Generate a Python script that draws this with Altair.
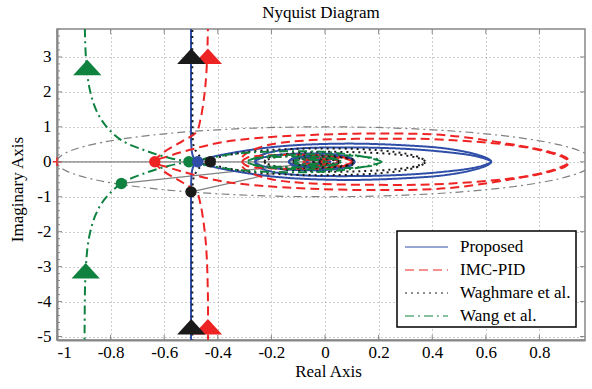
import altair as alt
import pandas as pd

SERIES = ["Proposed", "IMC-PID", "Waghmare et al.", "Wang et al."]
COLORS = ["#2f4ea8", "#ee2424", "#1a1a1a", "#0f8240"]
DASHES = [[1, 0], [9, 5], [2, 4], [9, 4, 2, 4]]

# positive-frequency branches (the negative-frequency branch is the mirror image)
BLUE_X = [-0.5, -0.5, -0.5, -0.499, -0.495, -0.487, -0.475,
          -0.44, -0.35, -0.22, -0.1, 0.1, 0.3, 0.45, 0.56, 0.61, 0.62,
          0.6, 0.55, 0.45, 0.3, 0.1, -0.1, -0.2, -0.25, -0.26,
          -0.24, -0.17, -0.05, 0.05, 0.1, 0.11,
          0.09, 0.03, -0.06, -0.12, -0.135,
          -0.11, -0.04, 0.03, 0.05, 0.03, -0.03, -0.07, -0.06, -0.01, 0.02, 0.0]
BLUE_Y = [-6.0, -3.0, -1.2, -0.5, -0.22, -0.08, 0.0,
          0.1, 0.25, 0.4, 0.48, 0.52, 0.47, 0.38, 0.22, 0.08, 0.0,
          -0.08, -0.18, -0.28, -0.37, -0.41, -0.38, -0.28, -0.14, 0.0,
          0.1, 0.2, 0.24, 0.2, 0.09, 0.0,
          -0.1, -0.17, -0.17, -0.1, 0.0,
          0.1, 0.12, 0.08, 0.0, -0.07, -0.09, -0.03, 0.04, 0.05, 0.0, -0.02]

RED_X = [-0.437, -0.437, -0.443, -0.452, -0.465, -0.48, -0.53, -0.6, -0.635,
         -0.58, -0.5, -0.39, -0.25, -0.05, 0.2, 0.45, 0.68, 0.83, 0.9, 0.91,
         0.89, 0.76, 0.45, 0.2, -0.05, -0.2, -0.28, -0.31, -0.31,
         -0.29, -0.22, -0.1, 0.02, 0.08, 0.1, 0.08, 0.02, -0.05, -0.08,
         -0.05, 0.0, 0.05, 0.05, 0.01, -0.02, 0.0]
RED_Y = [-6.0, -3.8, -2.5, -1.8, -1.2, -0.85, -0.6, -0.28, 0.0,
         0.17, 0.35, 0.55, 0.68, 0.77, 0.81, 0.76, 0.52, 0.3, 0.12, 0.0,
         -0.12, -0.4, -0.63, -0.66, -0.62, -0.5, -0.3, -0.12, 0.0,
         0.12, 0.18, 0.2, 0.17, 0.1, 0.0, -0.08, -0.12, -0.1, 0.0,
         0.06, 0.07, 0.03, -0.03, -0.05, 0.0, 0.01]

BLACK_X = [-0.494, -0.494, -0.49, -0.47, -0.45, -0.43,
           -0.4, -0.3, -0.15, 0.05, 0.2, 0.31, 0.36, 0.375,
           0.35, 0.28, 0.13, -0.03, -0.15, -0.21, -0.225,
           -0.2, -0.12, -0.02, 0.07, 0.11, 0.1, 0.04, -0.05, -0.11, -0.12,
           -0.08, 0.0, 0.05, 0.03, -0.03, -0.05, 0.0]
BLACK_Y = [-6.0, -1.0, -0.45, -0.18, -0.06, 0.0,
           0.12, 0.27, 0.36, 0.38, 0.33, 0.22, 0.1, 0.0,
           -0.1, -0.2, -0.27, -0.28, -0.22, -0.12, 0.0,
           0.1, 0.17, 0.18, 0.13, 0.04, -0.06, -0.13, -0.13, -0.06, 0.0,
           0.08, 0.09, 0.03, -0.05, -0.06, 0.0, 0.02]

GREEN_X = [-0.897, -0.897, -0.893, -0.88, -0.855, -0.82, -0.76, -0.67, -0.58, -0.508,
           -0.44, -0.32, -0.15, 0.0, 0.1, 0.17, 0.21,
           0.19, 0.12, 0.0, -0.14, -0.25, -0.29,
           -0.27, -0.18, -0.06, 0.03, 0.06, 0.03, -0.05, -0.11, -0.11, -0.06, -0.01, 0.01, 0.0]
GREEN_Y = [-6.0, -4.8, -3.1, -2.15, -1.5, -1.05, -0.62, -0.32, -0.11, 0.0,
           0.1, 0.24, 0.3, 0.28, 0.2, 0.1, 0.0,
           -0.09, -0.16, -0.21, -0.2, -0.12, 0.0,
           0.08, 0.14, 0.15, 0.1, 0.0, -0.08, -0.1, -0.05, 0.02, 0.06, 0.04, -0.01, 0.0]

CURVES = [(BLUE_X, BLUE_Y), (RED_X, RED_Y), (BLACK_X, BLACK_Y), (GREEN_X, GREEN_Y)]

# unit circle (reference)
UC_X = [1, 0.966, 0.866, 0.707, 0.5, 0.259, 0, -0.259, -0.5, -0.707, -0.866, -0.966, -1,
        -0.966, -0.866, -0.707, -0.5, -0.259, 0, 0.259, 0.5, 0.707, 0.866, 0.966, 1]
UC_Y = [0, 0.259, 0.5, 0.707, 0.866, 0.966, 1, 0.966, 0.866, 0.707, 0.5, 0.259, 0,
        -0.259, -0.5, -0.707, -0.866, -0.966, -1, -0.966, -0.866, -0.707, -0.5, -0.259, 0]

# gray reference segments: negative real axis and phase-margin rays
SEG_ID = ["a", "a", "b", "b", "c", "c"]
SEG_X = [-1.0, 0.0, 0.0, -0.76, 0.0, -0.5]
SEG_Y = [0.0, 0.0, 0.0, -0.62, 0.0, -0.86]

# crossing markers
DOT_X = [-0.76, -0.635, -0.508, -0.475, -0.428, -0.5]
DOT_Y = [-0.62, 0.0, 0.0, 0.0, 0.0, -0.86]
DOT_C = ["#0f8240", "#ee2424", "#0f8240", "#2f4ea8", "#1a1a1a", "#1a1a1a"]

# direction arrows
TRI_X = [-0.437, -0.437, -0.887, -0.893, -0.499, -0.499]
TRI_Y = [3.02, -4.72, 2.7, -3.12, 3.02, -4.72]
TRI_C = ["#ee2424", "#ee2424", "#0f8240", "#0f8240", "#1a1a1a", "#1a1a1a"]

XT = [-1, -0.8, -0.6, -0.4, -0.2, 0, 0.2, 0.4, 0.6, 0.8]
YT = [3, 2, 1, 0, -1, -2, -3, -4, -5]
Y_MINOR = [3.8, 3.6, 3.4, 3.2, 2.8, 2.6, 2.4, 2.2, 1.8, 1.6, 1.4, 1.2, 0.8, 0.6, 0.4, 0.2,
           -0.2, -0.4, -0.6, -0.8, -1.2, -1.4, -1.6, -1.8, -2.2, -2.4, -2.6, -2.8,
           -3.2, -3.4, -3.6, -3.8, -4.2, -4.4, -4.6, -4.8]

FONT = "Liberation Serif"
FS = 17

rows = []
for s, (xs, ys) in zip(SERIES, CURVES):
    for b, sign in (("p", 1), ("n", -1)):
        for i, (x, y) in enumerate(zip(xs, ys)):
            rows.append({"series": s, "branch": s + b, "i": i, "x": x, "y": sign * y})
curves = pd.DataFrame(rows)

uc = pd.DataFrame({"x": UC_X, "y": UC_Y, "i": list(range(len(UC_X)))})
segs = pd.DataFrame({"seg": SEG_ID, "x": SEG_X, "y": SEG_Y, "i": [0, 1, 0, 1, 0, 1]})
dots = pd.DataFrame({"x": DOT_X, "y": DOT_Y, "c": DOT_C})
tris = pd.DataFrame({"x": TRI_X, "y": TRI_Y, "c": TRI_C})
plus = pd.DataFrame({"x": [-1.0], "y": [0.0]})
ymin = pd.DataFrame({"y": Y_MINOR})
ymaj = pd.DataFrame({"y": YT})
xmaj = pd.DataFrame({"x": XT})

xscale = alt.Scale(domain=[-1, 0.97], nice=False, zero=False)
yscale = alt.Scale(domain=[-5.1, 3.8], nice=False, zero=False)

def X(field="x:Q"):
    return alt.X(field, scale=xscale, axis=alt.Axis(
        values=XT, labelExpr="'' + datum.value", title="Real Axis", grid=True,
        gridDash=[1, 3], gridColor="#9a9a9a", gridWidth=1, ticks=False,
        domainColor="#888888", domainWidth=2, labelFont=FONT, labelFontSize=FS,
        labelColor="black", labelPadding=4, titleFont=FONT, titleFontSize=FS,
        titleFontWeight="normal", titleColor="black", titlePadding=3, titleX=271))

def Y(field="y:Q"):
    return alt.Y(field, scale=yscale, axis=alt.Axis(
        values=YT, labelExpr="'' + datum.value", title="Imaginary Axis", grid=True,
        gridDash=[1, 3], gridColor="#9a9a9a", gridWidth=1, ticks=False,
        domainColor="#888888", domainWidth=2, labelFont=FONT, labelFontSize=FS,
        labelColor="black", labelPadding=6, titleFont=FONT, titleFontSize=FS,
        titleFontWeight="normal", titleColor="black", titlePadding=10, titleY=160))

circle = alt.Chart(uc).mark_line(clip=True, color="#808080", strokeWidth=1.2,
                                 strokeDash=[8, 4, 2, 4], interpolate="cardinal").encode(
    x=X(), y=Y(), order="i:Q")

gray = alt.Chart(segs).mark_line(clip=True, color="#808080", strokeWidth=1.2).encode(
    x=X(), y=Y(), detail="seg:N", order="i:Q")

# small inner ticks on the frame
tick_l = alt.Chart(ymin).mark_rule(color="#888888", strokeWidth=1).encode(
    y=Y(), x=alt.value(0), x2=alt.value(3))
tick_lm = alt.Chart(ymaj).mark_rule(color="#888888", strokeWidth=1).encode(
    y=Y(), x=alt.value(0), x2=alt.value(5))
tick_rm = alt.Chart(ymaj).mark_rule(color="#888888", strokeWidth=1).encode(
    y=Y(), x=alt.value(523), x2=alt.value(528))
tick_bm = alt.Chart(xmaj).mark_rule(color="#888888", strokeWidth=1).encode(
    x=X(), y=alt.value(306), y2=alt.value(311))
tick_tm = alt.Chart(xmaj).mark_rule(color="#888888", strokeWidth=1).encode(
    x=X(), y=alt.value(0), y2=alt.value(5))

def curve(s):
    return alt.Chart(curves).transform_filter(alt.datum.series == s).mark_line(
        clip=True, strokeWidth=2, interpolate="catmull-rom").encode(
        x=X(), y=Y(),
        color=alt.Color("series:N", scale=alt.Scale(domain=SERIES, range=COLORS), legend=None),
        strokeDash=alt.StrokeDash("series:N", scale=alt.Scale(domain=SERIES, range=DASHES), legend=None),
        detail="branch:N", order="i:Q")

dot_layer = alt.Chart(dots).mark_point(filled=True, size=130, opacity=1, clip=True).encode(
    x=X(), y=Y(), fill=alt.Fill("c:N", scale=None))

tri_layer = alt.Chart(tris).mark_point(filled=True, size=800, opacity=1, clip=True,
                                       shape="M-1,0.55L1,0.55L0,-0.55Z").encode(
    x=X(), y=Y(), fill=alt.Fill("c:N", scale=None))

plus_layer = alt.Chart(plus).mark_point(shape="M-1,0L1,0M0,-1L0,1", size=70, filled=False,
                                        stroke="#ee2424", strokeWidth=1.5, opacity=1).encode(
    x=X(), y=Y())

# legend box (pixel positions inside the plot area)
one = pd.DataFrame({"a": [0]})
leg_box = alt.Chart(one).mark_rect(fill="white", stroke="black", strokeWidth=1.5).encode(
    x=alt.value(340), x2=alt.value(519), y=alt.value(202), y2=alt.value(298))
leg_layers = [leg_box]
for k, s in enumerate(SERIES):
    yy = 218 + 23 * k
    d = pd.DataFrame({"series": [s]})
    leg_layers.append(alt.Chart(d).mark_rule(color=COLORS[k], strokeDash=DASHES[k],
                                              strokeWidth=1.2).encode(
        x=alt.value(348), x2=alt.value(391), y=alt.value(yy)))
    leg_layers.append(alt.Chart(d).mark_text(align="left", baseline="middle", font=FONT,
                                              fontSize=FS, color="black").encode(
        x=alt.value(403), y=alt.value(yy), text="series:N"))

chart = alt.layer(
    circle, gray, curve("Proposed"), curve("IMC-PID"), curve("Waghmare et al."),
    curve("Wang et al."), dot_layer, tri_layer, plus_layer,
    tick_l, tick_lm, tick_rm, tick_bm, tick_tm, *leg_layers
).properties(
    width=528, height=311,
    padding={"left": 57, "top": 29, "right": 7, "bottom": 49},
    autosize=alt.AutoSizeParams(type="none"),
    title=alt.TitleParams("Nyquist Diagram", font=FONT, fontSize=FS, fontWeight="normal",
                          color="black", anchor="middle", offset=7),
).configure_view(stroke="#888888", strokeWidth=1.5)

chart.save("out.html", embed_options={"renderer": "svg", "actions": False})
